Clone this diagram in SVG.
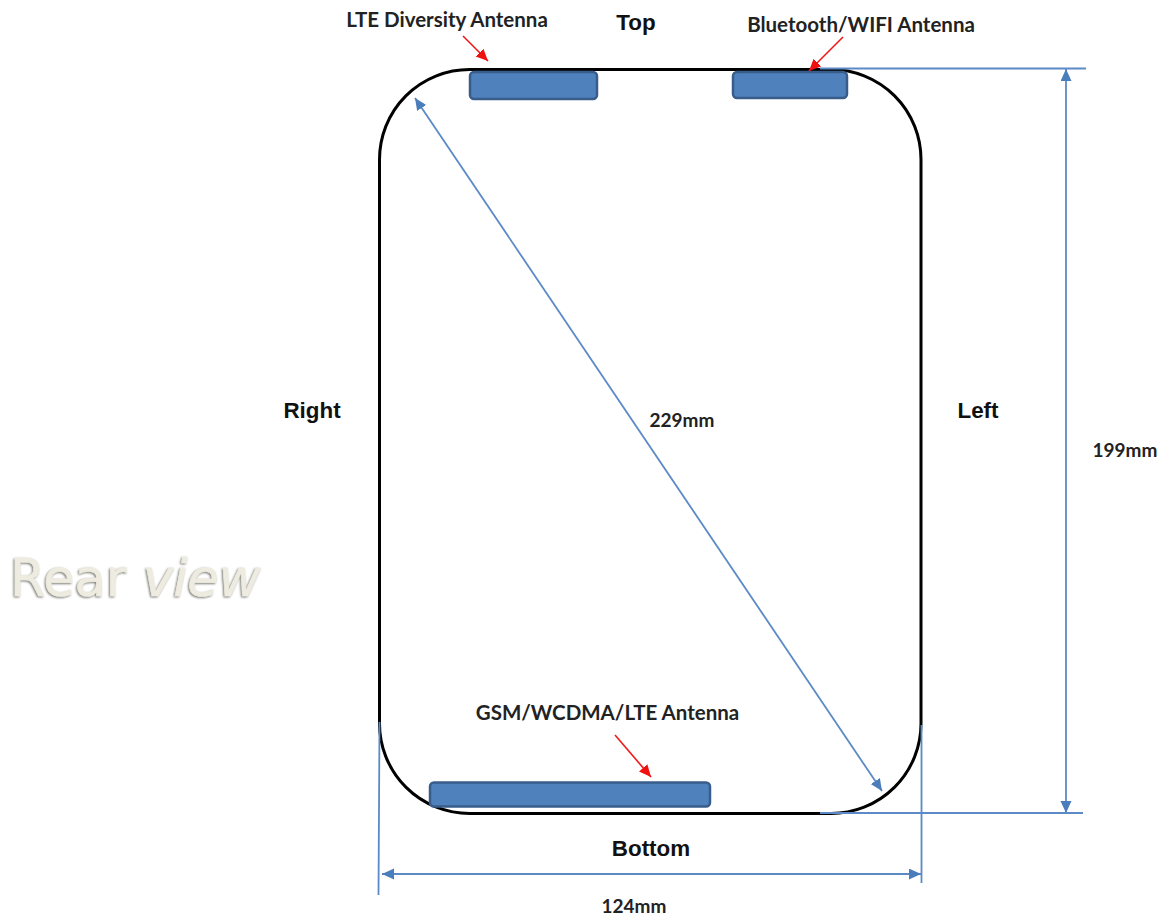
<svg xmlns="http://www.w3.org/2000/svg" width="1160" height="918" viewBox="0 0 1160 918">
<style>
.lbl{font-family:"Lato","Liberation Sans",sans-serif;font-weight:700;font-size:20.5px;fill:#222;text-anchor:middle}
.dim{font-family:"Lato","Liberation Sans",sans-serif;font-weight:700;font-size:19px;fill:#222;text-anchor:middle}
.side{font-family:"Liberation Sans",sans-serif;font-weight:700;font-size:22.4px;fill:#111;text-anchor:middle}
.ant{fill:#4f81bd;stroke:#385d8a;stroke-width:2.5}
.blue{stroke:#5b8ac6;stroke-width:1.8;fill:none}
.red{stroke:#f01818;stroke-width:1.6;fill:none;marker-end:url(#r)}
.rear{font-family:"DejaVu Sans","Liberation Sans",sans-serif;font-size:51px;fill:#eeece1;stroke:#eeece1;stroke-width:0.6;filter:url(#emb)}
</style>
<defs>
<marker id="b" markerUnits="userSpaceOnUse" markerWidth="13" markerHeight="12" refX="12" refY="5.5" orient="auto-start-reverse"><path d="M0 0L12 5.5L0 11z" fill="#4a7ebb"/></marker>
<marker id="r" markerUnits="userSpaceOnUse" markerWidth="13" markerHeight="12" refX="12" refY="5.5" orient="auto"><path d="M0 0L12 5.5L0 11z" fill="#f01010"/></marker>
<filter id="emb" x="-10%" y="-20%" width="120%" height="140%"><feDropShadow dx="-1" dy="1" stdDeviation="0.8" flood-color="#77776f"/></filter>
</defs>
<g id="body"><rect x="379.500" y="69.500" width="541.500" height="744" rx="90" ry="90" fill="#fff" stroke="#000" stroke-width="3"/></g>
<g id="antenna-lte-diversity"><rect class="ant" x="470" y="72" width="127" height="27" rx="4"/></g>
<g id="antenna-bt-wifi"><rect class="ant" x="733" y="72" width="114" height="26" rx="4"/></g>
<g id="antenna-gsm"><rect class="ant" x="430" y="782.500" width="280" height="24" rx="4"/></g>
<g id="connectors">
<path class="blue" d="M415 98L882 791" marker-start="url(#b)" marker-end="url(#b)"/>
<path class="blue" d="M1066 69V813" marker-start="url(#b)" marker-end="url(#b)"/>
<path class="blue" d="M382 874H921" marker-start="url(#b)" marker-end="url(#b)"/>
<path class="blue" d="M820 68.500H1086M820 813H1083M921.500 725V883M379.500 722L378.500 895"/>
<path class="red" d="M463 36L488 61"/>
<path class="red" d="M843 37L809 71"/>
<path class="red" d="M615 735L651 777"/>
</g>
<g id="labels">
<text class="lbl" x="447" y="27">LTE Diversity Antenna</text>
<text class="lbl" x="861" y="32">Bluetooth/WIFI Antenna</text>
<text class="lbl" x="607.500" y="720">GSM/WCDMA/LTE Antenna</text>
<text class="side" x="636" y="30">Top</text>
<text class="side" x="312" y="418">Right</text>
<text class="side" x="978" y="418">Left</text>
<text class="side" x="651" y="856">Bottom</text>
<text class="dim" x="682" y="427">229mm</text>
<text class="dim" x="1125" y="457">199mm</text>
<text class="dim" x="634" y="913">124mm</text>
</g>
<g id="rear-view"><text class="rear" x="10" y="596">Rear <tspan font-style="italic">view</tspan></text></g>
</svg>
